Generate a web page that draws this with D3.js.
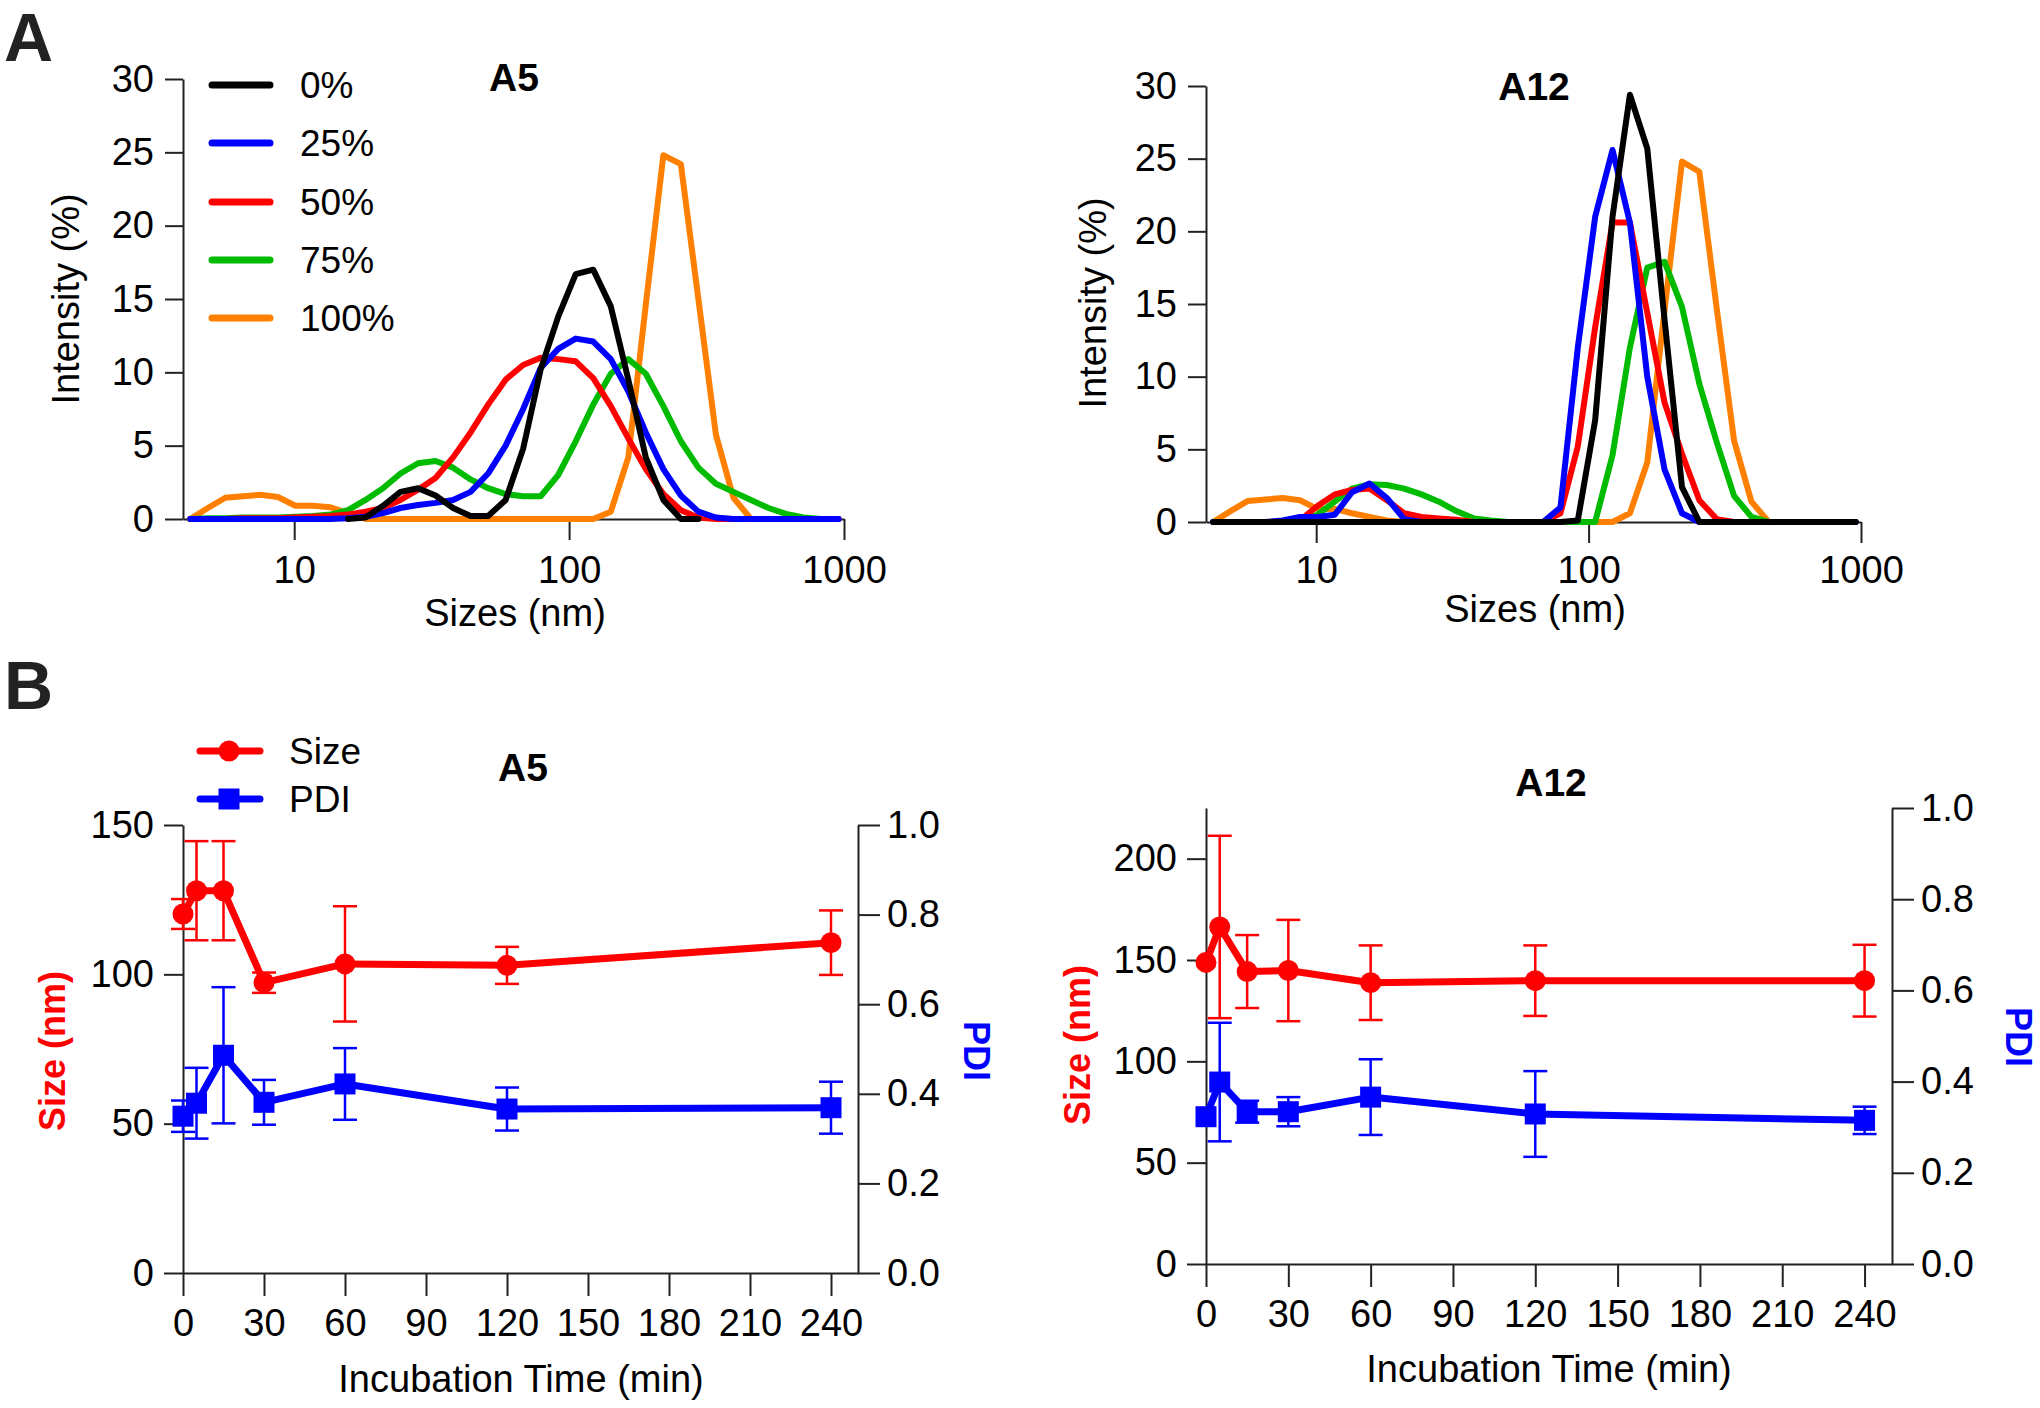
<!DOCTYPE html>
<html><head><meta charset="utf-8">
<script src="https://cdn.jsdelivr.net/npm/d3@7"></script>
<style>body{margin:0;background:#fff}</style>
</head><body><svg id="c" width="2040" height="1408" style="background:#fff"></svg>
<script>
// ---------- DATA ----------
const sizeBins = [4.187,4.849,5.615,6.503,7.531,8.721,10.1,11.7,13.54,15.69,18.17,21.04,24.36,28.21,32.67,37.84,43.82,50.75,58.77,68.06,78.82,91.28,105.7,122.4,141.8,164.2,190.1,220.2,255,295.3,342,396.1,458.7,531.2,615.1,712.4,825,955.4];
const sizeTicks = [10,100,1000];
const intensityTicks = [0,5,10,15,20,25,30];
const seriesNames = ["0%","25%","50%","75%","100%"];
const seriesColors = ["#000000","#0000ff","#ff0000","#00bb00","#ff8000"];

// A5 intensity distributions (%), one value per size bin (null = not plotted)
const a5_0   = [null,null,null,null,null,null,null,null,null,0,0.1,0.9,1.85,2.1,1.6,0.75,0.2,0.2,1.3,4.8,10.2,13.8,16.7,17.0,14.5,9.5,4.2,1.3,0,0,null,null,null,null,null,null,null,null];
const a5_25  = [0,0,0,0,0,0,0,0,0,0.05,0.15,0.4,0.75,0.95,1.1,1.3,1.85,3.1,5.0,7.5,10.3,11.6,12.3,12.1,10.9,8.7,5.9,3.4,1.6,0.5,0.1,0,0,0,0,0,0,0];
const a5_50  = [0,0,0,0.05,0.05,0.05,0.1,0.15,0.2,0.3,0.5,0.75,1.3,2.0,2.8,4.2,5.9,7.8,9.5,10.5,11.0,10.9,10.75,9.6,7.7,5.5,3.4,1.7,0.6,0.1,0,0,0,0,0,0,0,0];
const a5_75  = [0,0.05,0.05,0.1,0.1,0.1,0.15,0.2,0.3,0.6,1.3,2.1,3.1,3.8,3.95,3.5,2.7,2.1,1.7,1.55,1.55,3.0,5.3,7.8,9.9,10.9,9.9,7.7,5.3,3.5,2.4,1.85,1.3,0.75,0.35,0.1,0,0];
const a5_100 = [0,0.75,1.45,1.55,1.65,1.5,0.9,0.9,0.8,0.4,0,0,0,0,0,0,0,0,0,0,0,0,0,0,0.5,4.2,14.6,24.8,24.2,15.0,5.75,1.45,0,null,null,null,null,null];

// A12 intensity distributions (%)
const a12_0   = [0,0,0,0,0,0,0,0,0,0,0,0,0,0,0,0,0,0,0,0,0,0.1,7.0,21.0,29.4,25.7,13.9,2.4,0,0,0,0,0,0,0,0,0,0];
const a12_25  = [0,0,0,0,0.1,0.35,0.35,0.5,2.05,2.65,1.65,0.2,0,0,0,0,0,0,0,0,1.0,12.0,21.0,25.6,20.6,10.0,3.6,0.6,0,0,0,0,0,0,0,0,0,0];
const a12_50  = [0,0,0,0,0,0.1,1.1,1.9,2.2,2.3,1.5,0.6,0.35,0.25,0.15,0,0,0,0,0,0.6,5.2,13.4,20.6,20.6,14.4,8.2,4.7,1.5,0.2,0,0,0,0,0,0,0,0];
const a12_75  = [0,0,0,0,0,0.1,0.5,1.4,2.3,2.6,2.55,2.3,1.9,1.4,0.75,0.25,0.1,0,0,0,0,0,0,4.6,12.0,17.5,17.9,14.8,9.5,5.5,1.8,0.35,0,0,0,0,0,0];
const a12_100 = [0,0.75,1.45,1.55,1.65,1.5,0.9,0.9,0.6,0.35,0.1,0,0,0,0,0,0,0,0,0,0,0,0,0,0.6,4.1,14.6,24.8,24.1,14.7,5.6,1.4,0,null,null,null,null,null];

// B: incubation time series
const times = [0,5,15,30,60,120,240];
const timeTicks = [0,30,60,90,120,150,180,210,240];
const pdiTicks = [0,0.2,0.4,0.6,0.8,1.0];
const a5SizeTicks = [0,50,100,150];
const a12SizeTicks = [0,50,100,150,200];
const a5Size    = [120.2,128.0,128.0,97.2,103.5,103.0,110.6];
const a5SizeErr = [5.0,16.6,16.6,3.4,19.3,6.2,10.8];
const a5Pdi     = [0.350,0.379,0.486,0.381,0.422,0.366,0.369];
const a5PdiErr  = [0.035,0.079,0.152,0.050,0.080,0.048,0.058];
const a12Size    = [148.8,166.3,144.3,144.8,138.8,139.8,139.8];
const a12SizeErr = [0,45.0,18.0,25.0,18.4,17.4,17.7];
const a12Pdi     = [0.323,0.399,0.334,0.334,0.366,0.329,0.315];
const a12PdiErr  = [0,0.130,0.024,0.032,0.083,0.094,0.030];

// ---------- DRAWING ----------
const FONT = '"Liberation Sans", Arial, Helvetica, sans-serif';
const svg = d3.select("#c");

function styleAxis(g, fs){
  g.attr("font-family", FONT).attr("font-size", fs);
  g.selectAll("path.domain").attr("stroke","#222").attr("stroke-width",2);
  g.selectAll(".tick line").attr("stroke","#222").attr("stroke-width",2);
  g.selectAll("text").attr("fill","#000");
}
function label(txt, x, y, opt){
  opt = opt || {};
  const t = svg.append("text").text(txt)
    .attr("font-family", FONT).attr("font-size", opt.size || 38)
    .attr("font-weight", opt.bold ? "bold" : "normal")
    .attr("fill", opt.color || "#000")
    .attr("text-anchor", opt.anchor || "middle");
  if (opt.rot) {
    t.attr("transform", `translate(${x},${y}) rotate(${opt.rot})`).attr("dy","0.35em");
  } else {
    t.attr("x", x).attr("y", y);
    if (opt.center) t.attr("dy","0.35em");
  }
  return t;
}

function dlsPanel(o){
  const x = d3.scaleLog().domain([3.94,1000]).range(o.xr);
  const y = d3.scaleLinear().domain([0,30]).range(o.yr);
  const g = svg.append("g");
  g.append("g").attr("transform",`translate(0,${o.yr[0]})`)
    .call(d3.axisBottom(x).tickValues(sizeTicks).tickFormat(d3.format("d")).tickSize(21).tickSizeOuter(0).tickPadding(o.xPad))
    .call(styleAxis,38);
  g.append("g").attr("transform",`translate(${o.xr[0]},0)`)
    .call(d3.axisLeft(y).tickValues(intensityTicks).tickSize(18).tickSizeOuter(0).tickPadding(11))
    .call(styleAxis,38);
  const line = d3.line().defined(d=>d[1]!=null).x(d=>x(d[0])).y(d=>y(d[1]));
  // draw 100% first, 0% last
  for (let i = o.series.length-1; i >= 0; i--) {
    g.append("path").datum(sizeBins.map((b,k)=>[b,o.series[i][k]]))
      .attr("d",line).attr("fill","none").attr("stroke",seriesColors[i])
      .attr("stroke-width",6).attr("stroke-linejoin","round").attr("stroke-linecap","round");
  }
  label(o.title, o.titleX, o.titleY, {bold:true, size:39});
  label("Intensity (%)", o.ytX, o.ytY, {rot:-90, size:38});
  label("Sizes (nm)", o.xtX, o.xtY, {center:true, size:38});
}

dlsPanel({xr:[183,844], yr:[519,79], series:[a5_0,a5_25,a5_50,a5_75,a5_100], xPad:16,
  title:"A5", titleX:514, titleY:91, ytX:66, ytY:299, xtX:515, xtY:613});
dlsPanel({xr:[1206,1861], yr:[522,86], series:[a12_0,a12_25,a12_50,a12_75,a12_100], xPad:13,
  title:"A12", titleX:1534, titleY:100, ytX:1093, ytY:303, xtX:1535, xtY:609});

// legend A
const legY = [85,143,202,260,318];
seriesNames.forEach((n,i)=>{
  svg.append("line").attr("x1",212).attr("x2",270).attr("y1",legY[i]).attr("y2",legY[i])
    .attr("stroke",seriesColors[i]).attr("stroke-width",7).attr("stroke-linecap","round");
  label(n, 300, legY[i], {anchor:"start", center:true, size:37});
});

function timePanel(o){
  const x = d3.scaleLinear().domain([0,250]).range(o.xr);
  const yL = d3.scaleLinear().domain([0,o.yLmax]).range(o.yr);
  const yR = d3.scaleLinear().domain([0,1]).range(o.yr);
  const g = svg.append("g");
  g.append("g").attr("transform",`translate(0,${o.yr[0]})`)
    .call(d3.axisBottom(x).tickValues(timeTicks).tickSize(23).tickSizeOuter(0).tickPadding(13))
    .call(styleAxis,38);
  g.append("g").attr("transform",`translate(${o.xr[0]},0)`)
    .call(d3.axisLeft(yL).tickValues(o.yLticks).tickSize(19).tickSizeOuter(0).tickPadding(10))
    .call(styleAxis,38);
  g.append("g").attr("transform",`translate(${o.xr[1]},0)`)
    .call(d3.axisRight(yR).tickValues(pdiTicks).tickFormat(d3.format(".1f")).tickSize(22).tickSizeOuter(0).tickPadding(7))
    .call(styleAxis,38);

  const drawSeries = (vals, errs, ys, color, shape) => {
    const pts = times.map((t,i)=>({t, v:vals[i], e:errs[i]}));
    const eg = g.append("g").attr("stroke",color).attr("stroke-width",2.5);
    pts.filter(p=>p.e>0).forEach(p=>{
      const cx = x(p.t);
      eg.append("line").attr("x1",cx).attr("x2",cx).attr("y1",ys(p.v-p.e)).attr("y2",ys(p.v+p.e));
      [p.v-p.e, p.v+p.e].forEach(v=>{
        eg.append("line").attr("x1",cx-12).attr("x2",cx+12).attr("y1",ys(v)).attr("y2",ys(v));
      });
    });
    g.append("path").datum(pts).attr("d", d3.line().x(p=>x(p.t)).y(p=>ys(p.v)))
      .attr("fill","none").attr("stroke",color).attr("stroke-width",7).attr("stroke-linejoin","round");
    pts.forEach(p=>{
      if (shape==="circle") g.append("circle").attr("cx",x(p.t)).attr("cy",ys(p.v)).attr("r",10.5).attr("fill",color);
      else g.append("rect").attr("x",x(p.t)-10.5).attr("y",ys(p.v)-10.5).attr("width",21).attr("height",21).attr("fill",color);
    });
  };
  drawSeries(o.pdi, o.pdiErr, yR, "#0000ff", "square");
  drawSeries(o.size, o.sizeErr, yL, "#ff0000", "circle");

  label(o.title, o.titleX, o.titleY, {bold:true, size:39});
  label("Size (nm)", o.lyX, o.lyY, {rot:-90, size:36, bold:true, color:"#ff0000"});
  label("PDI", o.ryX, o.ryY, {rot:90, size:36, bold:true, color:"#0000ff"});
  label("Incubation Time (min)", o.xtX, o.xtY, {center:true, size:38});
}

timePanel({xr:[183,858], yr:[1273,825], yLmax:150, yLticks:a5SizeTicks,
  size:a5Size, sizeErr:a5SizeErr, pdi:a5Pdi, pdiErr:a5PdiErr,
  title:"A5", titleX:523, titleY:781, lyX:52, lyY:1051, ryX:977, ryY:1051, xtX:521, xtY:1379});
timePanel({xr:[1206,1892], yr:[1264,808], yLmax:225, yLticks:a12SizeTicks,
  size:a12Size, sizeErr:a12SizeErr, pdi:a12Pdi, pdiErr:a12PdiErr,
  title:"A12", titleX:1551, titleY:796, lyX:1077, lyY:1045, ryX:2019, ryY:1037, xtX:1549, xtY:1369});

// legend B
svg.append("line").attr("x1",200).attr("x2",260).attr("y1",751).attr("y2",751).attr("stroke","#ff0000").attr("stroke-width",7).attr("stroke-linecap","round");
svg.append("circle").attr("cx",229).attr("cy",751).attr("r",10.5).attr("fill","#ff0000");
label("Size", 289, 751, {anchor:"start", center:true, size:37});
svg.append("line").attr("x1",200).attr("x2",260).attr("y1",799).attr("y2",799).attr("stroke","#0000ff").attr("stroke-width",7).attr("stroke-linecap","round");
svg.append("rect").attr("x",218.5).attr("y",788.5).attr("width",21).attr("height",21).attr("fill","#0000ff");
label("PDI", 289, 799, {anchor:"start", center:true, size:37});

// panel letters
label("A", 4, 61, {anchor:"start", bold:true, size:68, color:"#222"});
label("B", 4, 709, {anchor:"start", bold:true, size:68, color:"#222"});
</script></body></html>
